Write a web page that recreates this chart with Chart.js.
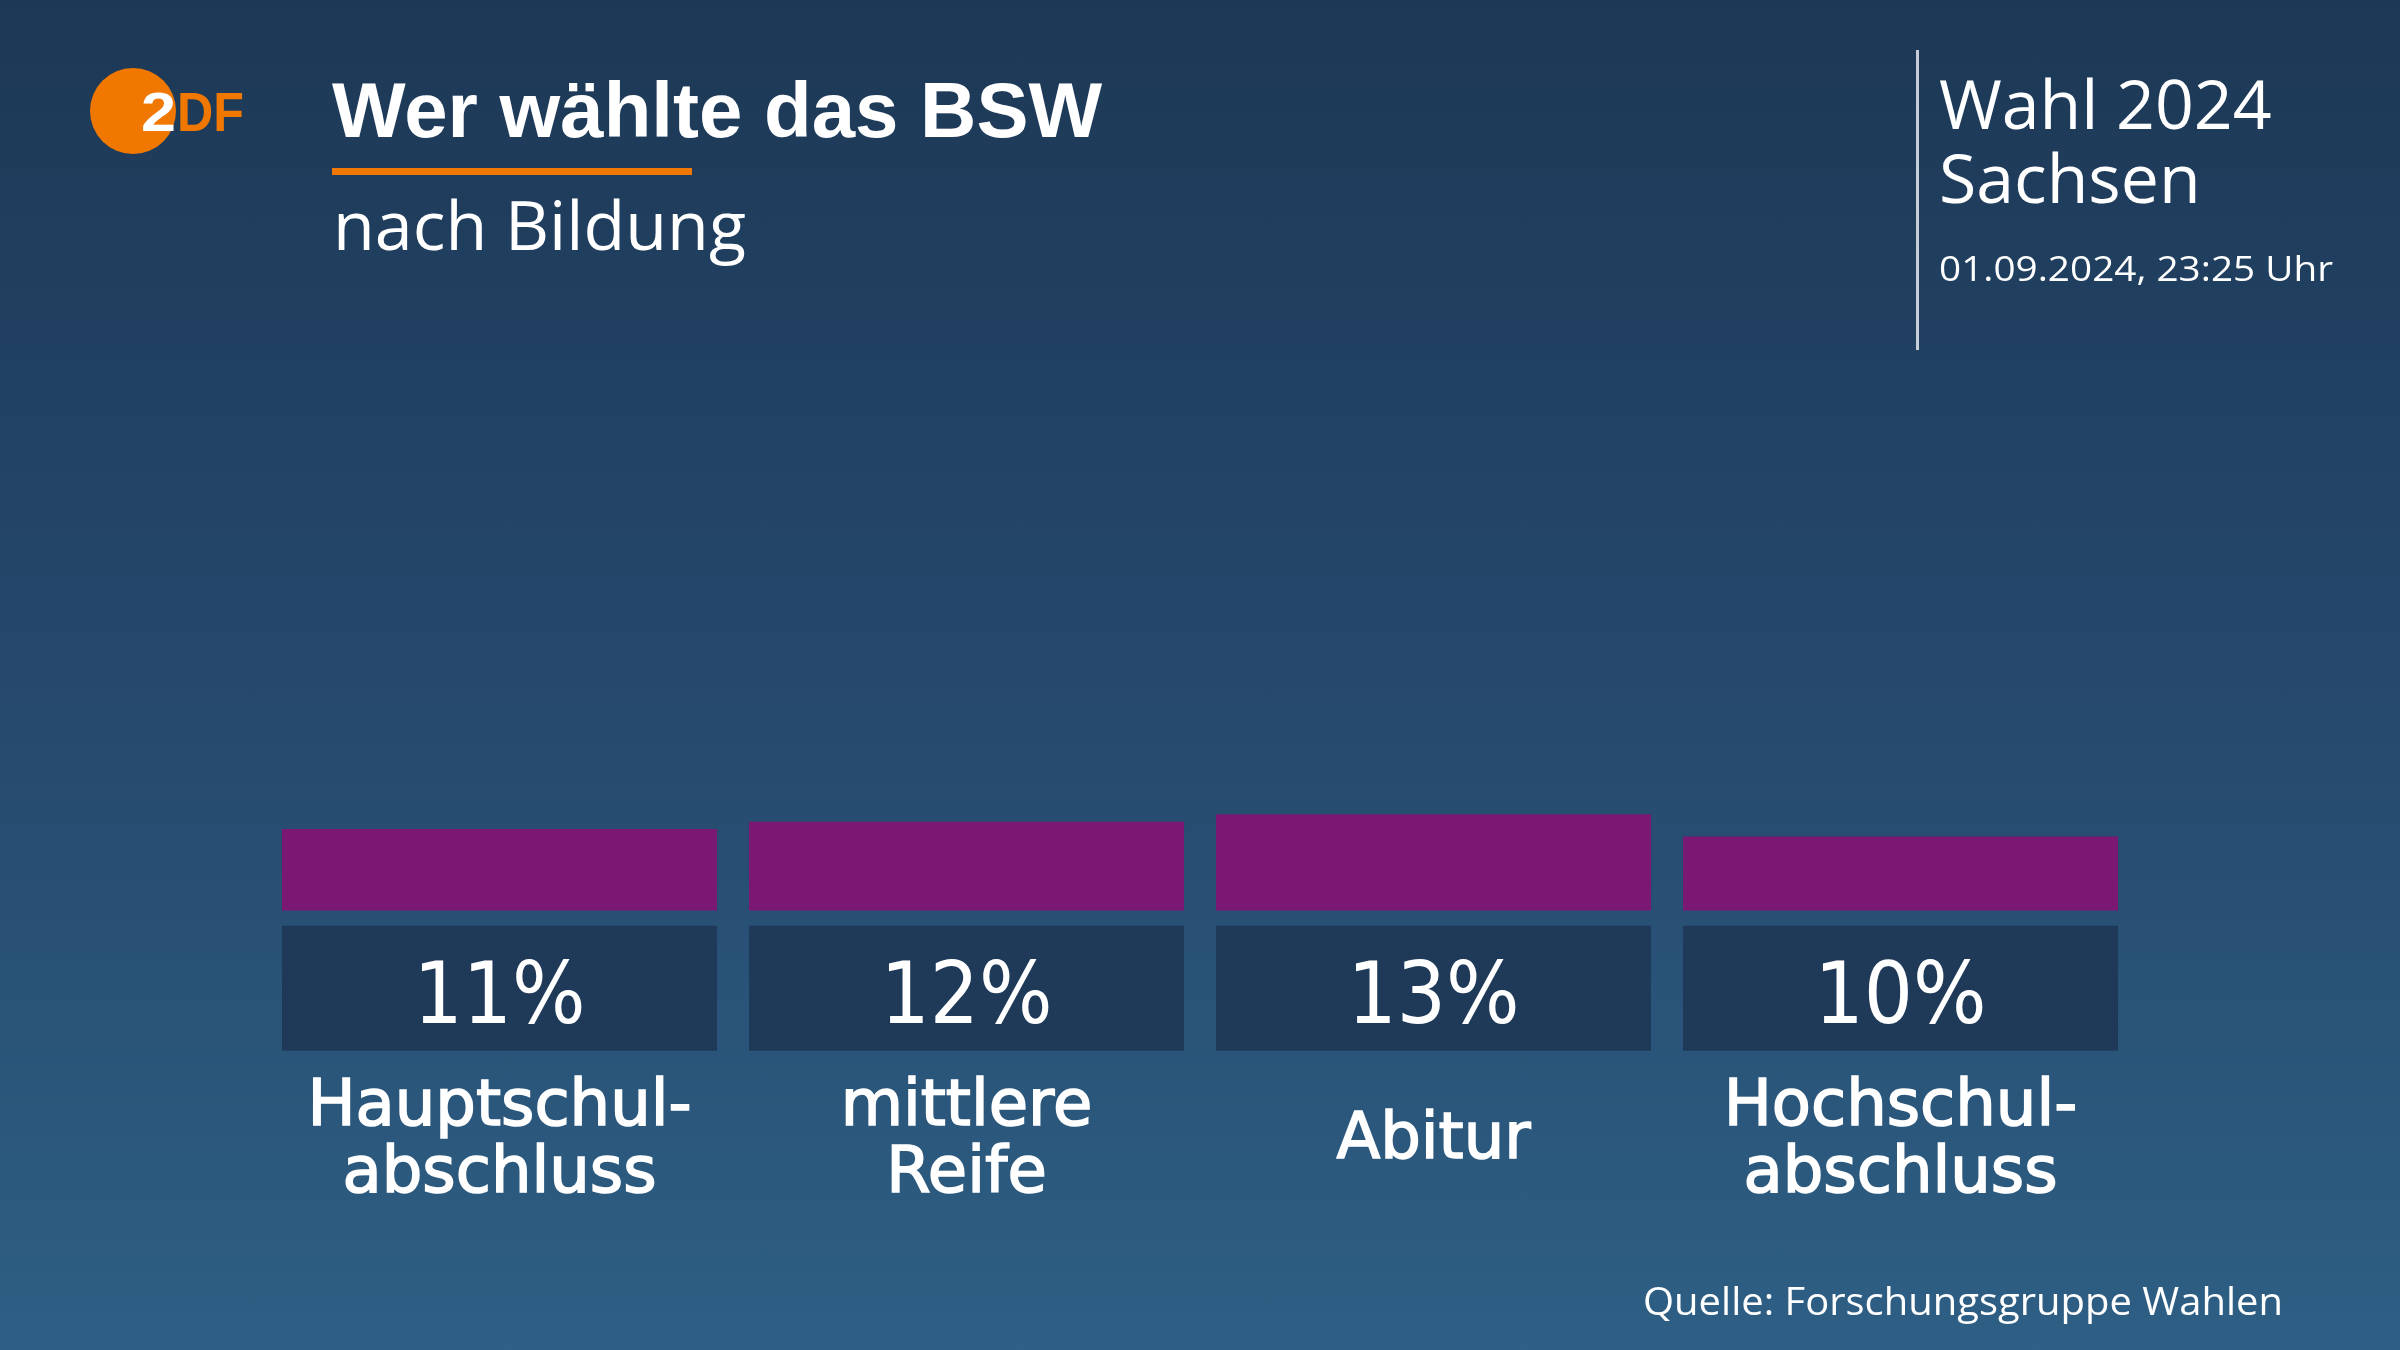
<!DOCTYPE html>
<html lang="de">
<head>
<meta charset="utf-8">
<title>Wer wählte das BSW – nach Bildung</title>
<script src="https://cdn.jsdelivr.net/npm/chart.js@4"></script>
<style>
    html, body {
        margin: 0;
        padding: 0;
    }
    body {
        width: 2400px;
        height: 1350px;
        overflow: hidden;
        position: relative;
        background: linear-gradient(to bottom, #1d3856 0%, #25486c 50%, #2e5f84 100%);
    }
    #bswChart {
        position: absolute;
        left: 0;
        top: 0;
    }
    #overlay {
        position: absolute;
        left: 0;
        top: 0;
        pointer-events: none;
    }
</style>
</head>
<body>

<canvas id="bswChart" width="2400" height="1350"></canvas>

<svg id="overlay" width="2400" height="1350" xmlns="http://www.w3.org/2000/svg">
    <!-- ZDF logo -->
    <circle cx="133" cy="111" r="43" fill="#f07800"/>
    <text x="141" y="131" font-family="Liberation Sans" font-weight="bold" font-size="56" fill="#ffffff" textLength="35" lengthAdjust="spacingAndGlyphs">2</text>
    <text x="177" y="131" font-family="Liberation Sans" font-weight="bold" font-size="56" fill="#f07800" textLength="67" lengthAdjust="spacingAndGlyphs">DF</text>

    <!-- title block -->
    <text x="332" y="137" font-family="Liberation Sans" font-weight="bold" font-size="78" fill="#ffffff">Wer wählte das BSW</text>
    <rect x="332" y="168" width="360" height="7" fill="#f07800"/>
    <text x="333" y="250" font-family="Open Sans" font-size="68" fill="#ffffff" textLength="413" lengthAdjust="spacingAndGlyphs">nach Bildung</text>

    <!-- election info -->
    <rect x="1916" y="50" width="3" height="300" fill="rgba(255,255,255,0.75)"/>
    <text x="1939" y="129" font-family="Open Sans" font-size="68" fill="#ffffff">Wahl 2024</text>
    <text x="1939" y="203" font-family="Open Sans" font-size="68" fill="#ffffff">Sachsen</text>
    <text x="1939" y="281" font-family="Open Sans" font-size="35" fill="#ffffff" textLength="394" lengthAdjust="spacingAndGlyphs">01.09.2024, 23:25 Uhr</text>

    <!-- source -->
    <text x="2283" y="1315" font-family="Open Sans" font-size="39" fill="#ffffff" text-anchor="end" textLength="640" lengthAdjust="spacingAndGlyphs">Quelle: Forschungsgruppe Wahlen</text>
</svg>

<script>
// data
const categories = [
    ["Hauptschul-", "abschluss"],
    ["mittlere", "Reife"],
    ["Abitur"],
    ["Hochschul-", "abschluss"]
];
const shares = [11, 12, 13, 10];

const barColor = "#7a1874";
const boxColor = "#1f3a59";


// value boxes + category labels under each bar
const labelBoxes = {
    id: "labelBoxes",
    afterDatasetsDraw(chart) {
        const ctx = chart.ctx;
        const meta = chart.getDatasetMeta(0);
        const base = chart.chartArea.bottom;

        ctx.save();
        meta.data.forEach((bar, i) => {
            const w = bar.width;
            const left = bar.x - w / 2;

            ctx.fillStyle = boxColor;
            ctx.fillRect(left, base + 15, w, 125);

            ctx.fillStyle = "#ffffff";
            ctx.strokeStyle = "#ffffff";
            ctx.textAlign = "center";
            ctx.textBaseline = "alphabetic";
            ctx.font = "86px 'DejaVu Sans Condensed', 'DejaVu Sans'";
            ctx.fillText(shares[i] + "%", bar.x, base + 112);

            // labels are a bit heavier than regular
            ctx.font = "64px 'DejaVu Sans'";
            ctx.lineWidth = 1.6;
            const lines = categories[i];
            lines.forEach((line, j) => {
                const y = lines.length === 1 ? base + 247 : base + 214 + j * 67;
                ctx.fillText(line, bar.x, y);
                ctx.strokeText(line, bar.x, y);
            });
        });
        ctx.restore();
    }
};


const chartCanvas = document.querySelector("#bswChart");

new Chart(chartCanvas, {
    type: "bar",
    data: {
        labels: categories.map(c => c.join(" ")),
        datasets: [{
            label: "BSW",
            data: shares,
            backgroundColor: barColor,
            borderWidth: 0,
            barPercentage: 0.9315,
            categoryPercentage: 1.0
        }]
    },
    options: {
        responsive: false,
        animation: false,
        layout: {
            padding: { left: 266, right: 266, top: 168.7, bottom: 439.3 }
        },
        plugins: {
            legend: { display: false },
            tooltip: { enabled: false }
        },
        scales: {
            x: { display: false },
            y: { display: false, min: 0, max: 100 }
        }
    },
    plugins: [labelBoxes]
});
</script>
</body>
</html>
